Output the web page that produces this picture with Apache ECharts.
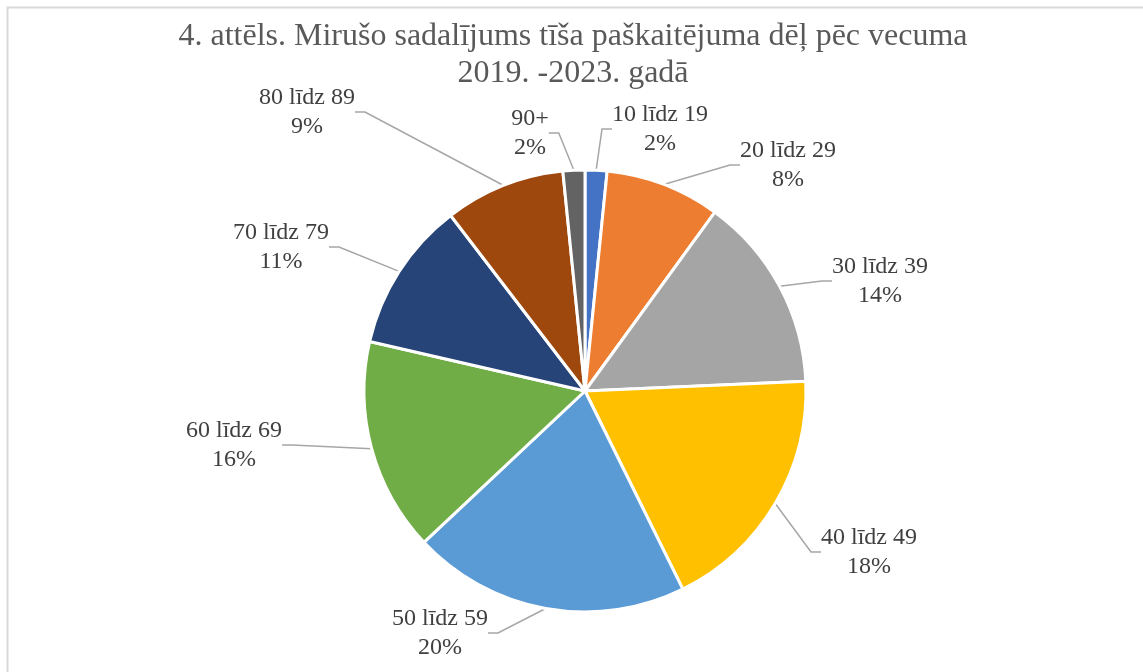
<!DOCTYPE html>
<html>
<head>
<meta charset="utf-8">
<script src="https://cdn.jsdelivr.net/npm/echarts@6/dist/echarts.min.js"></script>
<style>
  html, body { margin: 0; padding: 0; background: #fff; }
  #chart { width: 1143px; height: 672px; }
</style>
</head>
<body>
<div id="chart"></div>
<script>
// vecuma grupas un to daļa (%)
var categories = ['10 līdz 19', '20 līdz 29', '30 līdz 39', '40 līdz 49', '50 līdz 59',
                  '60 līdz 69', '70 līdz 79', '80 līdz 89', '90+'];
var shares = [1.6, 8.4, 14.3, 18.4, 20.3, 15.6, 11.0, 8.8, 1.6];
var colors = ['#4472C4', '#ED7D31', '#A5A5A5', '#FFC000', '#5B9BD5',
              '#70AD47', '#264478', '#9E480E', '#636363'];

// etiķešu centri (manuāli novietoti kā oriģinālā)
var labelSpots = [[660, 129], [788, 165], [880, 281], [869, 552], [440, 633],
                  [234, 445], [281, 247], [307, 112], [530, 133]];

var pieData = categories.map(function (name, i) {
    return { name: name, value: shares[i] };
});

var myChart = echarts.init(document.getElementById('chart'));
myChart.setOption({
    animation: false,
    color: colors,
    title: {
        text: '4. attēls. Mirušo sadalījums tīša paškaitējuma dēļ pēc vecuma\n2019. -2023. gadā',
        left: 568,
        top: 13,
        textAlign: 'center',
        textStyle: {
            fontFamily: 'Liberation Serif',
            fontWeight: 'normal',
            fontSize: 32,
            lineHeight: 37,
            color: '#595959'
        }
    },
    graphic: [{
        type: 'rect',
        shape: { x: 7.5, y: 7.5, width: 1160, height: 700 },
        style: { fill: 'none', stroke: '#d9d9d9', lineWidth: 2 },
        silent: true
    }],
    series: [{
        type: 'pie',
        center: [585, 391],
        radius: 221,
        startAngle: 90,
        clockwise: true,
        percentPrecision: 0,
        data: pieData,
        itemStyle: { borderColor: '#fff', borderWidth: 3 },
        label: {
            show: true,
            position: 'outside',
            formatter: '{b}\n{d}%',
            fontFamily: 'Liberation Serif',
            fontSize: 24,
            lineHeight: 29,
            color: '#404040'
        },
        labelLine: {
            show: true,
            length: 20,
            length2: 10,
            lineStyle: { color: '#a6a6a6', width: 1.5 }
        },
        labelLayout: function (params) {
            var p = labelSpots[params.dataIndex];
            return { x: p[0], y: p[1], align: 'center', verticalAlign: 'middle' };
        }
    }]
});
</script>
</body>
</html>
